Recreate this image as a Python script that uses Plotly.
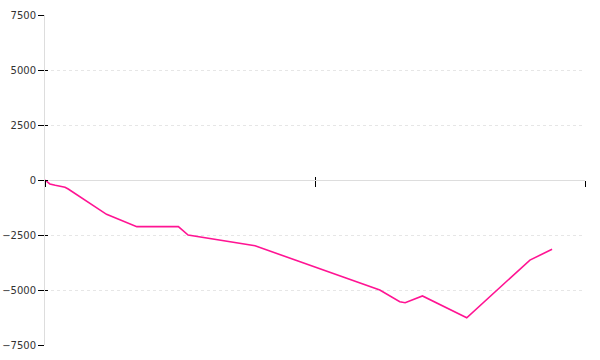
import plotly.graph_objects as go

# Data (x in arbitrary index units 0..100)
x_vals = [0, 0.9, 1.9, 3.7, 4.3, 11.4, 17.0, 24.7, 26.5, 28.7, 38.9, 62.0, 65.7, 66.7, 69.9, 78.1, 89.8, 93.9]
y_vals = [0, -180, -240, -330, -410, -1560, -2120, -2120, -2500, -2590, -2990, -5000, -5530, -5580, -5270, -6260, -3640, -3150]
y_ticks = [-7500, -5000, -2500, 0, 2500, 5000, 7500]
x_ticks = [0, 50, 100]

fig = go.Figure()
fig.add_trace(go.Scatter(x=x_vals, y=y_vals, mode="lines",
                         line=dict(color="#ff1493", width=1.6),
                         hoverinfo="skip", showlegend=False))
# invisible trace to carry the overlay axes (inner half of the crossing ticks)
fig.add_trace(go.Scatter(x=[None], y=[None], xaxis="x2", yaxis="y2",
                         mode="lines", showlegend=False, hoverinfo="skip"))

font = dict(family="DejaVu Sans", size=10, color="#333333")

fig.update_layout(
    width=600, height=360,
    margin=dict(l=45, r=15, t=15, b=15, autoexpand=False),
    paper_bgcolor="white", plot_bgcolor="white",
    showlegend=False,
    xaxis=dict(range=[0, 100], anchor="free", position=0.5, automargin=False,
               tickvals=x_ticks, showticklabels=False,
               ticks="outside", ticklen=6, tickcolor="#000000", tickwidth=1,
               showgrid=False, zeroline=False, showline=False),
    yaxis=dict(range=[-7500, 7500], tickvals=y_ticks, automargin=False,
               ticks="outside", ticklen=6, tickcolor="#000000", tickwidth=1,
               tickfont=font,
               showgrid=True, gridcolor="#e6e6e6", griddash="dot", gridwidth=1,
               zeroline=True, zerolinecolor="#dddddd", zerolinewidth=1,
               showline=True, linecolor="#dddddd", linewidth=1),
    xaxis2=dict(range=[0, 100], overlaying="x", anchor="free", position=0.5,
                automargin=False,
                tickvals=x_ticks, showticklabels=False,
                ticks="inside", ticklen=3, tickcolor="#000000", tickwidth=1,
                showgrid=False, zeroline=False, showline=False),
    yaxis2=dict(range=[-7500, 7500], overlaying="y", side="left", automargin=False,
                tickvals=y_ticks, showticklabels=False,
                ticks="inside", ticklen=3, tickcolor="#000000", tickwidth=1,
                showgrid=False, zeroline=False, showline=False),
)

fig.write_html("out.html")
